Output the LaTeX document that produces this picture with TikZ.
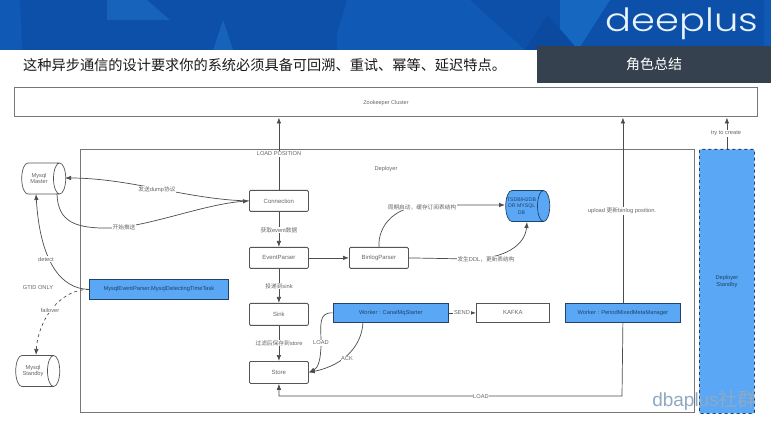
\documentclass[tikz,border=0pt]{standalone}
\usepackage{fontspec}
\setmainfont{Liberation Sans}
\newfontfamily\cjk{Noto Sans CJK SC}
\newfontfamily\logofont{Poppins Light}
\usetikzlibrary{arrows.meta,shapes.geometric,calc}
\definecolor{hdr}{HTML}{0C50A9}
\definecolor{hdredge}{HTML}{1059B5}
\definecolor{hdrdark}{HTML}{0B4A9E}
\definecolor{hdrlight}{HTML}{1762BA}
\definecolor{hdrbright}{HTML}{1567C0}
\definecolor{logoc}{HTML}{E8F4FA}
\definecolor{darkbox}{HTML}{36414F}
\definecolor{nodeblue}{HTML}{5AA7F5}
\definecolor{edgeblue}{HTML}{1F4468}
\definecolor{linegray}{HTML}{555555}
\definecolor{txtgray}{HTML}{666666}
\definecolor{wm}{HTML}{8FA9C4}
\tikzset{
  x=1pt,y=-1pt,
  box/.style={draw=linegray,line width=.8pt,fill=white,rounded corners=1.2pt,font=\fontsize{6}{7}\selectfont,text=txtgray,inner sep=0pt,align=center},
  frame/.style={draw=linegray!80,line width=1pt,inner sep=0pt,align=center,font=\fontsize{5.5}{7}\selectfont,text=txtgray},
  bluebox/.style={draw=edgeblue,line width=.8pt,fill=nodeblue,inner sep=0pt,align=center,font=\fontsize{5.7}{7}\selectfont,text=edgeblue},
  db/.style={cylinder,shape aspect=.9,draw=linegray,line width=.7pt,fill=white,minimum width=31pt,minimum height=44pt,inner sep=0pt},
  conn/.style={draw=linegray!90!black,line width=.7pt,-{Latex[length=6pt,width=4.5pt]}},
  lbl/.style={fill=white,inner sep=.6pt,font=\fontsize{5.7}{7}\selectfont,text=txtgray},
  dblbl/.style={lbl,fill=none,align=center,font=\fontsize{5.7}{6.8}\selectfont},
}
\newcommand{\nbox}[6]{\node[#1,minimum width=#4-#3,minimum height=#6-#5,anchor=north west] at (#3,#5) (#2)}
\newcommand{\zh}[1]{{\cjk #1}}
\newcommand{\dbstrut}{\rule{20pt}{0pt}\rule{0pt}{13.6pt}}
\begin{document}
\begin{tikzpicture}
\useasboundingbox (0,0) rectangle (771,430);
\fill[white] (0,0) rectangle (771,430);
% header band
\fill[hdr] (0,0) rectangle (771,50);
\fill[hdredge] (0,0) -- (20,0) -- (22,50) -- (0,50) -- cycle;
\fill[hdrlight] (107,0) -- (147,0) -- (170,20) -- (107,20) -- cycle;
\fill[hdrlight] (223,20) -- (213,50) -- (233,50) -- cycle;
\fill[hdredge] (347,0) -- (470,0) -- (525,50) -- (337,50) -- (337,33) -- cycle;
\fill[hdrbright] (560,0) -- (610,0) -- (578,50) -- (560,30) -- cycle;
\fill[hdrdark] (525,50) -- (548,15) -- (578,50) -- cycle;
\fill[hdredge] (764,0) -- (771,0) -- (771,50) -- (764,50) -- cycle;
\node[anchor=base,text=logoc,inner sep=0pt,font=\logofont\fontsize{32}{32}\selectfont] (logo) at (682,32) {\scalebox{1.2}[1]{deeplus}};
\fill[white] (0,50) rectangle (537,83);
\node[anchor=west,inner sep=0pt,text=black!90,font=\cjk\fontsize{14.2}{15}\selectfont] (title) at (23,65) {这种异步通信的设计要求你的系统必须具备可回溯、重试、幂等、延迟特点。};
\node[fill=darkbox,text=white,minimum width=234pt,minimum height=37pt,inner sep=0pt,anchor=north west,font=\cjk\fontsize{14}{15}\selectfont] (role) at (537,46) {角色总结};
% frames
\nbox{frame}{zk}{14}{757}{87}{116.5}{};
\node[lbl,fill=none,font=\fontsize{5.5}{7}\selectfont] (zklabel) at (386,103) {Zookeeper Cluster};
\nbox{frame}{dep}{79.5}{694}{149}{412}{};
\node[lbl,fill=none] (deplabel) at (386,169) {Deployer};
\nbox{bluebox,dashed,rounded corners=1pt}{standby}{699}{754}{149}{413}{Deployer\\Standby};
% boxes
\nbox{box}{connection}{249}{308}{190}{211}{Connection};
\nbox{box}{eventp}{249}{308}{247}{268}{EventParser};
\nbox{box}{binlog}{349}{408}{247}{268}{BinlogParser};
\nbox{box}{sink}{249}{308}{303}{325}{Sink};
\nbox{box}{store}{249}{308}{361}{383}{Store};
\nbox{bluebox}{canal}{333}{448}{303}{322}{Worker : CanalMqStarter};
\nbox{box,rounded corners=0pt}{kafka}{476}{549}{303}{322}{KAFKA};
\nbox{bluebox}{period}{565}{680}{303}{322}{Worker : PeriodMixedMetaManager};
\nbox{bluebox}{task}{89}{228}{279}{299}{MysqlEventParser.MysqlDetectingTimeTask};
% cylinders
\node[db] (master) at (40.5,178.5) {\dbstrut};
\node[dblbl] (masterlabel) at (39,178.5) {Mysql\\Master};
\node[db] (mstandby) at (34.5,371) {\dbstrut};
\node[dblbl] (standbylabel) at (33,371) {Mysql\\Standby};
\node[db,fill=nodeblue,draw=edgeblue] (mdb) at (524.5,206) {\dbstrut};
\node[dblbl,text=edgeblue,font=\fontsize{5.2}{6.8}\selectfont] (mdblabel) at (521.5,206) {TSDB/H2DB\\OR MYSQL\\DB};
\coordinate (mbot) at (57,194);
\coordinate (dbot) at (527,222);
\coordinate (mdet) at (36,194);
\coordinate (mcap) at (65,178);
\coordinate (stop) at (36,355);
\coordinate (dbl) at (505,205);
\coordinate (store-load) at (279,396);
\coordinate (load-turn) at (622,396);
\coordinate (canal-ack) at (363,322);
% connectors
\draw[conn] (connection.north) -- (connection.north |- zk.south);
\draw[conn] (period.north) -- (period.north |- zk.south);
\draw[conn] (standby.north) -- (standby.north |- zk.south);
\draw[conn] (connection.west) .. controls (190,200) and (130,178) .. (mcap);
\draw[conn] (mbot) .. controls (58,222) and (75,229) .. (113,228) .. controls (150,226) and (205,204) .. (connection.west);
\draw[conn] (task.west) .. controls (60,289) and (40,260) .. (mdet);
\draw[conn,dashed] (task.west) .. controls (60,289) and (38,320) .. (stop);
\draw[conn] (connection.south) -- (eventp.north);
\draw[conn] (eventp.south) -- (sink.north);
\draw[conn] (sink.south) -- (store.north);
\draw[conn] (eventp.east) -- (binlog.west);
\draw[conn] (binlog.north) .. controls (378,225) and (395,205) .. (430,205) -- (dbl);
\draw[conn] (binlog.east) -- (470,259) .. controls (505,259) and (525,245) .. (dbot);
\draw[conn] (canal.west) .. controls (318,312) and (321,325) .. (321,343) .. controls (321,360) and (318,368) .. (store.east);
\draw[conn] (canal-ack) .. controls (362,345) and (345,365) .. (store.east);
\draw[conn] (canal.east) -- (kafka.west);
\draw[conn] (period.south) -- (load-turn) -- (store-load) -- (store.south);
% labels
\node[lbl] (l1) at (279,154) {LOAD POSITION};
\node[lbl] (l2) at (622,211) {upload \zh{更新}binlog position.};
\node[lbl] (l3) at (726,133.5) {try to create};
\node[lbl] (l4) at (157,190) {\zh{发送}dump\zh{协议}};
\node[lbl] (l5) at (124,227) {\zh{开始推送}};
\node[lbl] (l6) at (46,259) {detect};
\node[lbl] (l7) at (38,288) {GTID ONLY};
\node[lbl] (l8) at (50,310) {failover};
\node[lbl] (l9) at (279,230) {\zh{获取}event\zh{数据}};
\node[lbl] (l10) at (279,286) {\zh{投递到}sink};
\node[lbl] (l11) at (279,343) {\zh{过滤后保存到}store};
\node[lbl] (l12) at (422,207) {\zh{周期启动，缓存订阅表结构}};
\node[lbl] (l13) at (486,259) {\zh{发生}DDL\zh{，更新表结构}};
\node[lbl] (l14) at (321,343) {LOAD};
\node[lbl] (l15) at (347,359) {ACK};
\node[lbl] (l16) at (462,313) {SEND};
\node[lbl] (l17) at (481,397) {LOAD};
% watermark
\node[anchor=east,inner sep=0pt,text=wm,font=\fontsize{19}{19}\selectfont] (wm) at (757,400) {dbaplus\zh{社群}};
\end{tikzpicture}
\end{document}
